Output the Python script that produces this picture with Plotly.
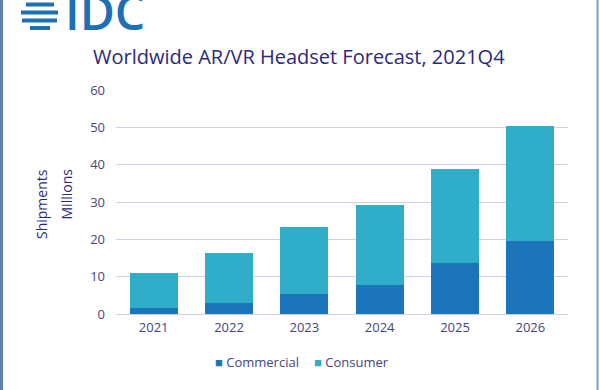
import plotly.graph_objects as go

years = ["2021", "2022", "2023", "2024", "2025", "2026"]
commercial = [1.5, 3.0, 5.4, 7.9, 13.6, 19.5]
total = [11.0, 16.4, 23.3, 29.2, 38.8, 50.3]
consumer = [round(t - c, 2) for t, c in zip(total, commercial)]
y_ticks = [0, 10, 20, 30, 40, 50, 60]
series_names = ["Commercial", "Consumer"]

C_COM = "#1c74bb"
C_CON = "#2fadc9"
TXT = "#44447e"
TITLE = "#2b2a7c"
FONT = "Open Sans"

# plot area in pixels
L, R, T, B = 116, 568, 90, 314
W, H = 600, 390


def px(x):
    return (x - L) / (R - L)


def py(y):
    return (B - y) / (B - T)


fig = go.Figure()
fig.add_trace(go.Bar(x=years, y=commercial, name=series_names[0], marker=dict(color=C_COM, line=dict(width=0))))
fig.add_trace(go.Bar(x=years, y=consumer, name=series_names[1], marker=dict(color=C_CON, line=dict(width=0))))

shapes = []
# frame borders
shapes.append(dict(type="line", xref="paper", yref="paper", x0=px(1.5), x1=px(1.5), y0=py(0), y1=py(H),
                   line=dict(color="#5f82a6", width=3), layer="above"))
shapes.append(dict(type="line", xref="paper", yref="paper", x0=px(597.5), x1=px(597.5), y0=py(0), y1=py(H),
                   line=dict(color="#7d9dbd", width=2), layer="above"))
# logo globe stripes
for (yy, xa, xb) in [(4.5, 26, 54), (12.5, 21, 58), (20.5, 22, 57), (28, 30, 50)]:
    shapes.append(dict(type="line", xref="paper", yref="paper", x0=px(xa), x1=px(xb), y0=py(yy), y1=py(yy),
                       line=dict(color="#1f6fb6", width=4), layer="above"))

annotations = [
    dict(text="IDC", xref="paper", yref="paper", x=px(63), y=py(11), xanchor="left", yanchor="middle",
         showarrow=False, font=dict(family=FONT, size=48, color="#1f6fb6", weight=600)),
    dict(text="Worldwide AR/VR Headset Forecast, 2021Q4", xref="paper", yref="paper", x=px(299), y=py(57),
         xanchor="center", yanchor="middle", showarrow=False, font=dict(family=FONT, size=20, color=TITLE)),
    dict(text="Shipments", xref="paper", yref="paper", x=px(41), y=py(167), xanchor="center", yanchor="top",
         textangle=-90, showarrow=False, font=dict(family=FONT, size=14, color=TITLE)),
    dict(text="Millions", xref="paper", yref="paper", x=px(66), y=py(167), xanchor="center", yanchor="top",
         textangle=-90, showarrow=False, font=dict(family=FONT, size=14, color=TITLE)),
    # legend
    dict(text=f'<span style="color:{C_COM}">■</span> {series_names[0]}', xref="paper", yref="paper",
         x=px(213), y=py(362), xanchor="left", yanchor="middle", showarrow=False,
         font=dict(family=FONT, size=13, color=TXT)),
    dict(text=f'<span style="color:{C_CON}">■</span> {series_names[1]}', xref="paper", yref="paper",
         x=px(312), y=py(362), xanchor="left", yanchor="middle", showarrow=False,
         font=dict(family=FONT, size=13, color=TXT)),
]

fig.update_layout(
    width=W, height=H,
    margin=dict(l=L, r=W - R, t=T, b=H - B, autoexpand=False),
    barmode="stack", bargap=0.36,
    paper_bgcolor="white", plot_bgcolor="white",
    font=dict(family=FONT, size=13, color=TXT),
    showlegend=False,
    shapes=shapes, annotations=annotations,
)
fig.update_yaxes(range=[0, 60], tickvals=y_ticks, showgrid=True, gridcolor="#d4d0e4", gridwidth=1.3,
                 zeroline=True, zerolinecolor="#d4d0e4", zerolinewidth=1.3, showline=False,
                 ticks="", ticklabelstandoff=10, tickfont=dict(size=13, color=TXT))
fig.update_xaxes(showline=False, ticks="", tickfont=dict(size=13, color=TXT), ticklabelstandoff=4)

fig.write_html("out.html", config={"displayModeBar": False},
               post_script="document.body.style.margin='0';document.body.style.overflow='hidden';")
